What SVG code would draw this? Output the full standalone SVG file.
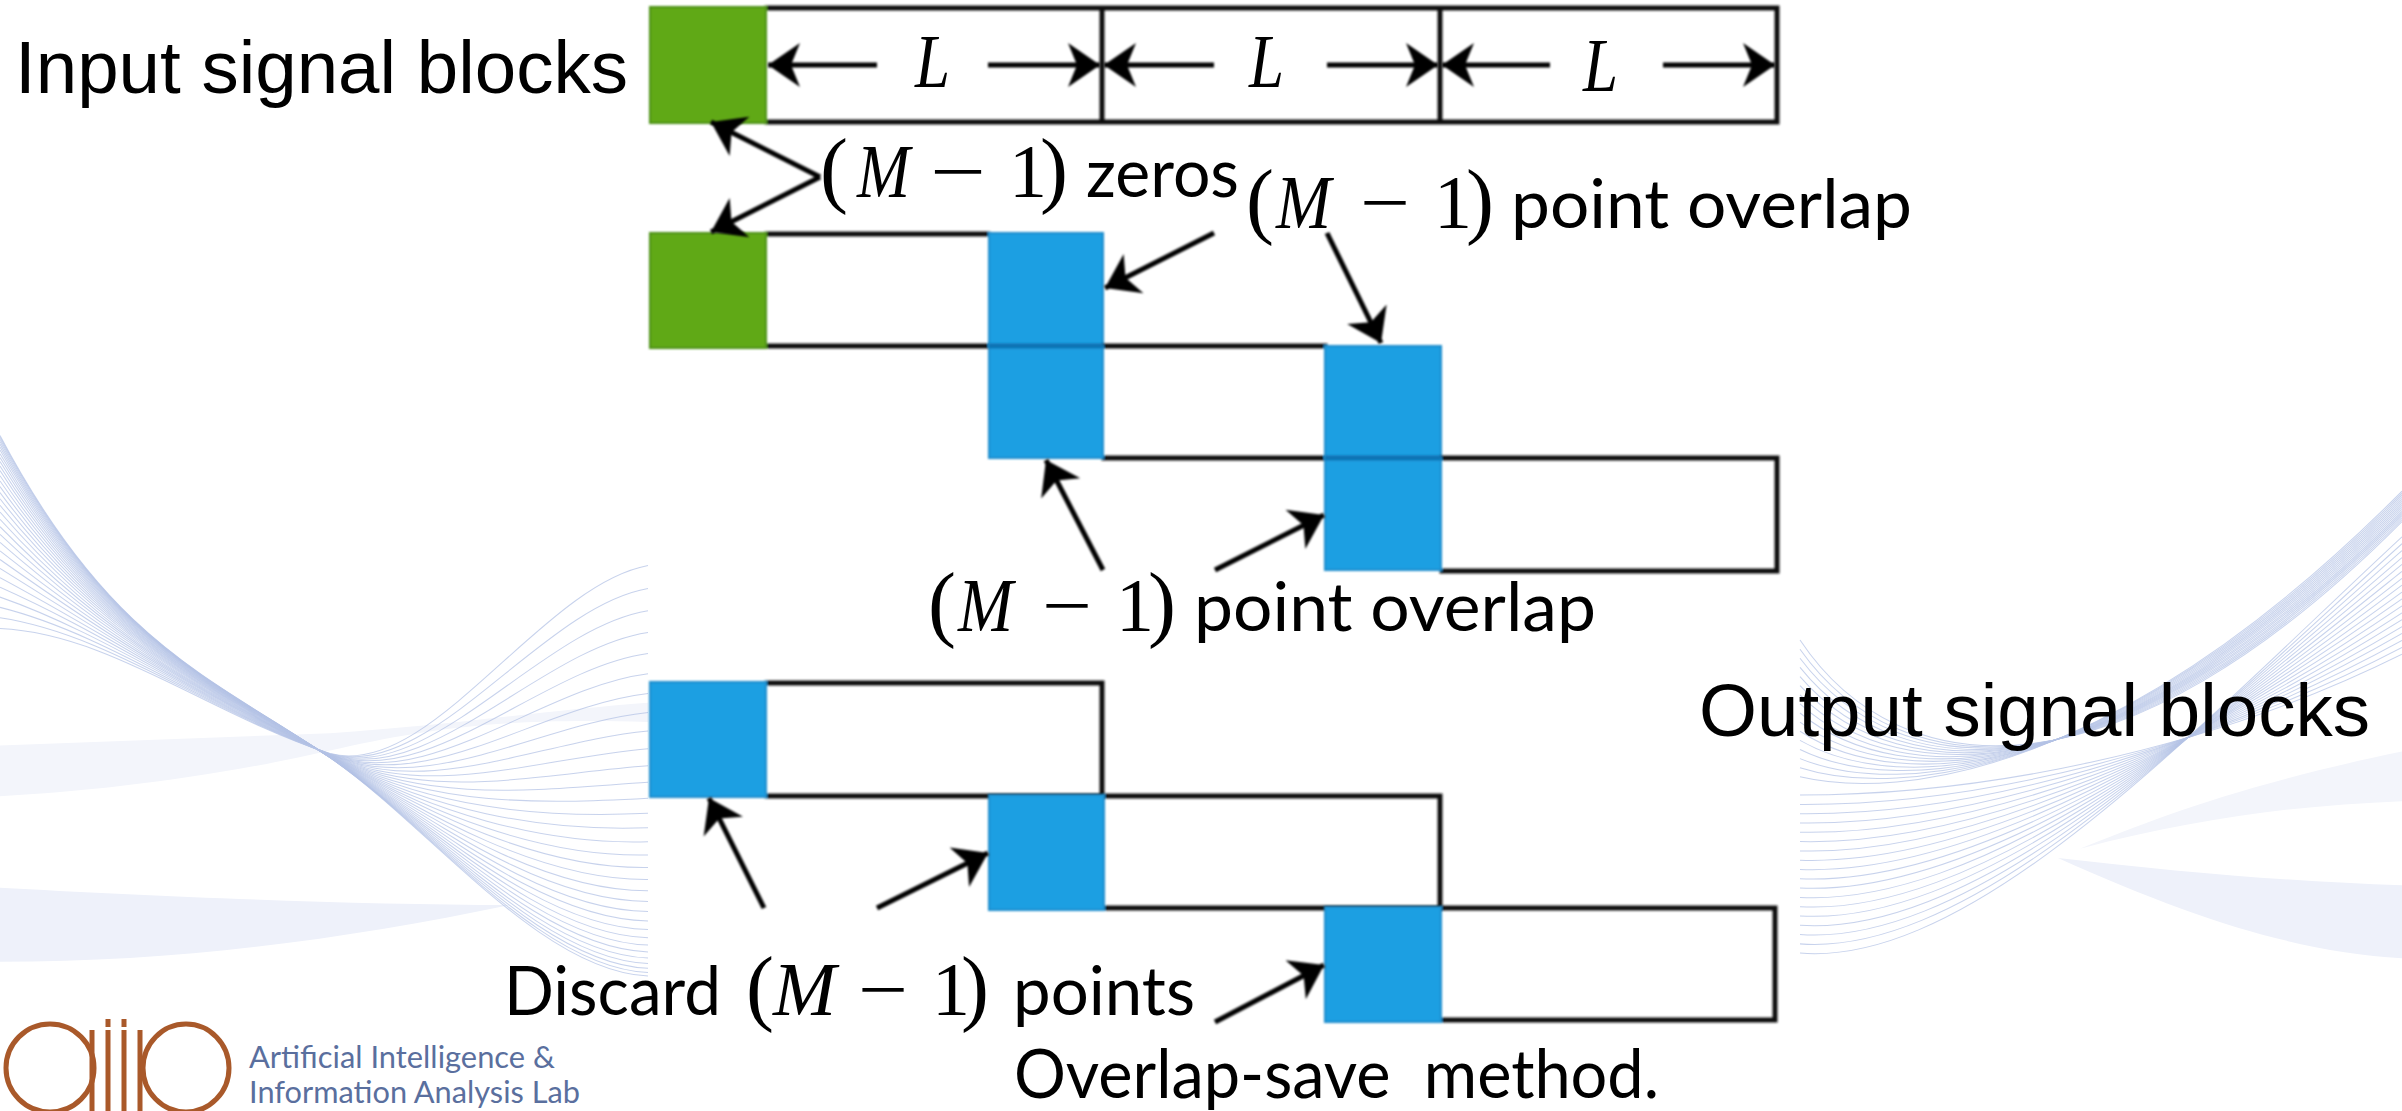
<svg xmlns="http://www.w3.org/2000/svg" width="2402" height="1111" viewBox="0 0 2402 1111">
<style>
.wave{fill:none;stroke:#b4c3e6;stroke-width:1;stroke-opacity:.75}
.bandA{fill:#f3f5fb}
.bandB{fill:#eef1fa}
.box{fill:none;stroke:#111;stroke-width:5;stroke-linecap:square}
.green{fill:#61a917;stroke:#4b9012;stroke-width:2}
.blue{fill:#1b9fe2;stroke:#1a8ccc;stroke-width:2}
.seam{stroke:#0f72b4;stroke-width:5}
.arrow{fill:none;stroke:#000;stroke-width:5;marker-end:url(#head)}
.head{fill:#000}
.sans{font-family:"Liberation Sans",Arial,sans-serif;font-size:74px;fill:#000}
.math{font-family:Lato,"Noto Sans",sans-serif;font-size:68px;fill:#000}
.var{font-family:"Liberation Serif","Times New Roman",serif;font-style:italic;font-size:76px}
.sym{font-family:"Liberation Serif","Times New Roman",serif;font-size:76px}
.par{font-family:"Liberation Serif","Times New Roman",serif;font-size:84px}
.lab{font-family:Lato,"Noto Sans",sans-serif;font-size:31px;fill:#5a6f9e}
.ring{fill:none;stroke:#a9592a;stroke-width:5}
</style>
<defs>
<filter id="soft" x="-5%" y="-5%" width="110%" height="110%"><feGaussianBlur stdDeviation="0.9"/></filter>
<marker id="head" markerUnits="userSpaceOnUse" markerWidth="36" markerHeight="48" refX="32" refY="24" orient="auto"><path class="head" d="M32 24 L0 2 L9 24 L0 46 Z"/></marker>
</defs>

<!-- backdrop ribbons, left side -->
<g id="ribbon-left" transform="translate(0,400) scale(1,1.016) translate(0,-400)">
<path class="bandA" d="M0 740 L330 728 C450 720 550 705 648 698 L648 717 C500 712 420 725 330 745 C220 770 100 785 0 790Z"/>
<path class="bandB" d="M0 880 C150 888 350 897 510 897 C350 930 180 953 0 953Z"/>
<path class="wave" d="M0 435C110 640 210 672 330 752C430 820 540 962 648 967"/>
<path class="wave" d="M0 436.7C110 639.9 210 672.3 330 752C430 819.6 540 958.7 648 963.5"/>
<path class="wave" d="M0 438.6C110 639.8 210 672.7 330 751.9C430 819.1 540 954.8 648 959.4"/>
<path class="wave" d="M0 440.8C110 639.7 210 673.2 330 751.9C430 818.6 540 950.4 648 954.6"/>
<path class="wave" d="M0 443.4C110 639.6 210 673.7 330 751.8C430 818 540 945.3 648 949.2"/>
<path class="wave" d="M0 446.2C110 639.4 210 674.2 330 751.8C430 817.3 540 939.6 648 943.2"/>
<path class="wave" d="M0 449.3C110 639.2 210 674.9 330 751.7C430 816.5 540 933.4 648 936.5"/>
<path class="wave" d="M0 452.8C110 639.1 210 675.6 330 751.6C430 815.7 540 926.5 648 929.2"/>
<path class="wave" d="M0 456.5C110 638.9 210 676.3 330 751.5C430 814.8 540 919.1 648 921.2"/>
<path class="wave" d="M0 460.6C110 638.7 210 677.1 330 751.5C430 813.8 540 911 648 912.7"/>
<path class="wave" d="M0 464.9C110 638.4 210 678 330 751.4C430 812.8 540 902.3 648 903.4"/>
<path class="wave" d="M0 469.5C110 638.2 210 678.9 330 751.3C430 811.6 540 893.1 648 893.6"/>
<path class="wave" d="M0 474.5C110 637.9 210 679.9 330 751.2C430 810.4 540 883.3 648 883.1"/>
<path class="wave" d="M0 479.7C110 637.6 210 680.9 330 751.1C430 809.2 540 872.9 648 872"/>
<path class="wave" d="M0 485.2C110 637.4 210 682 330 750.9C430 807.8 540 861.8 648 860.2"/>
<path class="wave" d="M0 491.1C110 637.1 210 683.2 330 750.8C430 806.4 540 850.2 648 847.8"/>
<path class="wave" d="M0 497.2C110 636.7 210 684.4 330 750.7C430 804.9 540 838 648 834.8"/>
<path class="wave" d="M0 503.6C110 636.4 210 685.7 330 750.6C430 803.4 540 825.1 648 821.1"/>
<path class="wave" d="M0 510.3C110 636 210 687.1 330 750.4C430 801.8 540 811.7 648 806.8"/>
<path class="wave" d="M0 517.4C110 635.7 210 688.5 330 750.3C430 800.1 540 797.7 648 791.9"/>
<path class="wave" d="M0 524.7C110 635.3 210 689.9 330 750.1C430 798.3 540 783.1 648 776.3"/>
<path class="wave" d="M0 532.3C110 634.9 210 691.5 330 750C430 796.4 540 767.9 648 760.1"/>
<path class="wave" d="M0 540.2C110 634.5 210 693 330 749.8C430 794.5 540 752.1 648 743.2"/>
<path class="wave" d="M0 548.5C110 634 210 694.7 330 749.6C430 792.5 540 735.7 648 725.7"/>
<path class="wave" d="M0 557C110 633.6 210 696.4 330 749.4C430 790.5 540 718.7 648 707.6"/>
<path class="wave" d="M0 565.8C110 633.1 210 698.2 330 749.2C430 788.3 540 701.1 648 688.9"/>
<path class="wave" d="M0 574.9C110 632.6 210 700 330 749.1C430 786.1 540 682.9 648 669.5"/>
<path class="wave" d="M0 584.3C110 632.1 210 701.9 330 748.9C430 783.8 540 664.1 648 649.5"/>
<path class="wave" d="M0 594C110 631.6 210 703.8 330 748.7C430 781.5 540 644.7 648 628.8"/>
<path class="wave" d="M0 604.1C110 631.1 210 705.8 330 748.4C430 779.1 540 624.7 648 607.5"/>
<path class="wave" d="M0 614.4C110 630.6 210 707.9 330 748.2C430 776.6 540 604.2 648 585.6"/>
<path class="wave" d="M0 625C110 630 210 710 330 748C430 774 540 583 648 563"/>
</g>

<!-- backdrop ribbons, right side -->
<g id="ribbon-right" transform="translate(0,400) scale(1,1.013) translate(0,-400)">
<path class="bandA" d="M2080 843 C2150 815 2240 780 2402 747 L2402 796 C2300 800 2200 812 2080 843Z"/>
<path class="bandB" d="M2058 852 C2180 866 2300 876 2402 879 L2402 951 C2300 945 2200 915 2058 852Z"/>
<path class="wave" d="M1800 772C1900 795 2120 770 2402 490"/>
<path class="wave" d="M1800 763C1900 794.3 2120 772 2402 492"/>
<path class="wave" d="M1800 754C1900 793.7 2120 774 2402 494"/>
<path class="wave" d="M1800 745C1900 793 2120 776 2402 496"/>
<path class="wave" d="M1800 736C1900 792.3 2120 778 2402 498"/>
<path class="wave" d="M1800 727C1900 791.7 2120 780 2402 500"/>
<path class="wave" d="M1800 718C1900 791 2120 782 2402 502"/>
<path class="wave" d="M1800 709C1900 790.3 2120 784 2402 504"/>
<path class="wave" d="M1800 700C1900 789.7 2120 786 2402 506"/>
<path class="wave" d="M1800 691C1900 789 2120 788 2402 508"/>
<path class="wave" d="M1800 682C1900 788.3 2120 790 2402 510"/>
<path class="wave" d="M1800 673C1900 787.7 2120 792 2402 512"/>
<path class="wave" d="M1800 664C1900 787 2120 794 2402 514"/>
<path class="wave" d="M1800 655C1900 786.3 2120 796 2402 516"/>
<path class="wave" d="M1800 646C1900 785.7 2120 798 2402 518"/>
<path class="wave" d="M1800 637C1900 785 2120 800 2402 520"/>
<path class="wave" d="M1800 790C1975 790 2200 750 2402 651"/>
<path class="wave" d="M1800 799.2C1975 800 2200 748.2 2402 644.2"/>
<path class="wave" d="M1800 808.4C1975 810 2200 746.5 2402 637.4"/>
<path class="wave" d="M1800 817.5C1975 820 2200 744.7 2402 630.5"/>
<path class="wave" d="M1800 826.7C1975 830 2200 743 2402 623.7"/>
<path class="wave" d="M1800 835.9C1975 840 2200 741.2 2402 616.9"/>
<path class="wave" d="M1800 845.1C1975 850 2200 739.4 2402 610.1"/>
<path class="wave" d="M1800 854.3C1975 860 2200 737.7 2402 603.3"/>
<path class="wave" d="M1800 863.4C1975 870 2200 735.9 2402 596.4"/>
<path class="wave" d="M1800 872.6C1975 880 2200 734.2 2402 589.6"/>
<path class="wave" d="M1800 881.8C1975 890 2200 732.4 2402 582.8"/>
<path class="wave" d="M1800 891C1975 900 2200 730.6 2402 576"/>
<path class="wave" d="M1800 900.2C1975 910 2200 728.9 2402 569.2"/>
<path class="wave" d="M1800 909.3C1975 920 2200 727.1 2402 562.3"/>
<path class="wave" d="M1800 918.5C1975 930 2200 725.4 2402 555.5"/>
<path class="wave" d="M1800 927.7C1975 940 2200 723.6 2402 548.7"/>
<path class="wave" d="M1800 936.9C1975 950 2200 721.9 2402 541.9"/>
<path class="wave" d="M1800 946C1975 960 2200 720 2402 535"/>
</g>

<!-- lab mark and name -->
<g id="logo">
<ellipse class="ring" cx="50" cy="1068" rx="44" ry="44"/>
<path class="ring" d="M92 1030V1111M108 1030V1111M124 1030V1111M140 1030V1111"/>
<path class="ring" d="M108 1019V1027M124 1019V1027"/>
<ellipse class="ring" cx="186" cy="1068" rx="43" ry="44"/>
<text class="lab" x="249" y="1068" textLength="306" lengthAdjust="spacingAndGlyphs">Artificial Intelligence &amp;</text>
<text class="lab" x="249" y="1103" textLength="331" lengthAdjust="spacingAndGlyphs">Information Analysis Lab</text>
</g>

<!-- input blocks -->
<g id="input-row" filter="url(#soft)">
<path class="box" d="M767 8H1777V122H767M1102 8V122M1440 8V122"/>
<rect class="green" x="650" y="7" width="116" height="116"/>
</g>
<g id="input-segment-1" filter="url(#soft)">
<path class="box" d="M767 234H988M767 346H988"/>
<rect class="green" x="650" y="233" width="116" height="115"/>
<rect class="blue" x="989" y="233" width="114" height="113"/>
</g>
<g id="input-segment-2" filter="url(#soft)">
<path class="box" d="M1104 346H1325M1104 458H1325"/>
<rect class="blue" x="989" y="346" width="114" height="112"/>
<rect class="blue" x="1325" y="346" width="116" height="112"/>
<path class="seam" d="M989 346H1103"/>
</g>
<g id="input-segment-3" filter="url(#soft)">
<path class="box" d="M1442 458H1777V571H1442"/>
<rect class="blue" x="1325" y="458" width="116" height="112"/>
<path class="seam" d="M1325 458H1441"/>
</g>

<!-- output blocks -->
<g id="output-segment-1" filter="url(#soft)">
<path class="box" d="M767 683H1102V796H767"/>
<rect class="blue" x="650" y="682" width="116" height="115"/>
</g>
<g id="output-segment-2" filter="url(#soft)">
<path class="box" d="M1104 796H1440V908H1104"/>
<rect class="blue" x="989" y="795" width="115" height="115"/>
</g>
<g id="output-segment-3" filter="url(#soft)">
<path class="box" d="M1442 908H1775V1020H1442"/>
<rect class="blue" x="1325" y="907" width="116" height="115"/>
</g>

<!-- arrows -->
<g id="connectors" filter="url(#soft)">
<path class="arrow" d="M877 65H768"/>
<path class="arrow" d="M988 65H1100"/>
<path class="arrow" d="M1214 65H1104"/>
<path class="arrow" d="M1327 65H1438"/>
<path class="arrow" d="M1550 65H1442"/>
<path class="arrow" d="M1663 65H1775"/>
<path class="arrow" d="M820 177L711 122"/>
<path class="arrow" d="M820 177L711 232"/>
<path class="arrow" d="M1214 233L1105 288"/>
<path class="arrow" d="M1327 233L1381 343"/>
<path class="arrow" d="M1103 570L1046 460"/>
<path class="arrow" d="M1215 570L1324 515"/>
<path class="arrow" d="M764 908L709 798"/>
<path class="arrow" d="M877 908L988 853"/>
<path class="arrow" d="M1215 1022L1324 965"/>
</g>

<!-- labels -->
<g id="labels">
<text class="sans" x="15" y="93" textLength="613" lengthAdjust="spacingAndGlyphs">Input signal blocks</text>
<text class="sans" x="1699" y="736" textLength="671" lengthAdjust="spacingAndGlyphs">Output signal blocks</text>
<text class="math var" x="915" y="87" textLength="35" lengthAdjust="spacingAndGlyphs">L</text>
<text class="math var" x="1249" y="87" textLength="35" lengthAdjust="spacingAndGlyphs">L</text>
<text class="math var" x="1583" y="91" textLength="35" lengthAdjust="spacingAndGlyphs">L</text>
<text class="math" x="820" y="197"><tspan class="par" x="820">(</tspan><tspan class="var" x="857" textLength="53" lengthAdjust="spacingAndGlyphs">M</tspan><tspan class="sym" x="930" textLength="56" lengthAdjust="spacingAndGlyphs">−</tspan><tspan class="sym" x="1009">1</tspan><tspan class="par" x="1040">)</tspan><tspan x="1086" textLength="153" lengthAdjust="spacingAndGlyphs">zeros</tspan></text>
<text class="math" x="1246" y="228"><tspan class="par" x="1246">(</tspan><tspan class="var" x="1276" textLength="55" lengthAdjust="spacingAndGlyphs">M</tspan><tspan class="sym" x="1360" textLength="50" lengthAdjust="spacingAndGlyphs">−</tspan><tspan class="sym" x="1434">1</tspan><tspan class="par" x="1466">)</tspan><tspan x="1511" textLength="401" lengthAdjust="spacingAndGlyphs">point overlap</tspan></text>
<text class="math" x="928" y="631"><tspan class="par" x="928">(</tspan><tspan class="var" x="958" textLength="55" lengthAdjust="spacingAndGlyphs">M</tspan><tspan class="sym" x="1042" textLength="50" lengthAdjust="spacingAndGlyphs">−</tspan><tspan class="sym" x="1116">1</tspan><tspan class="par" x="1148">)</tspan><tspan x="1194" textLength="402" lengthAdjust="spacingAndGlyphs">point overlap</tspan></text>
<text class="math" x="504" y="1015"><tspan x="504" textLength="217" lengthAdjust="spacingAndGlyphs">Discard</tspan><tspan class="par" x="746">(</tspan><tspan class="var" x="773" textLength="63" lengthAdjust="spacingAndGlyphs">M</tspan><tspan class="sym" x="858" textLength="50" lengthAdjust="spacingAndGlyphs">−</tspan><tspan class="sym" x="932">1</tspan><tspan class="par" x="961">)</tspan><tspan x="1013" textLength="182" lengthAdjust="spacingAndGlyphs">points</tspan></text>
<text class="math" x="1014" y="1098" textLength="645" lengthAdjust="spacingAndGlyphs" xml:space="preserve">Overlap-save  method.</text>
</g>
</svg>
